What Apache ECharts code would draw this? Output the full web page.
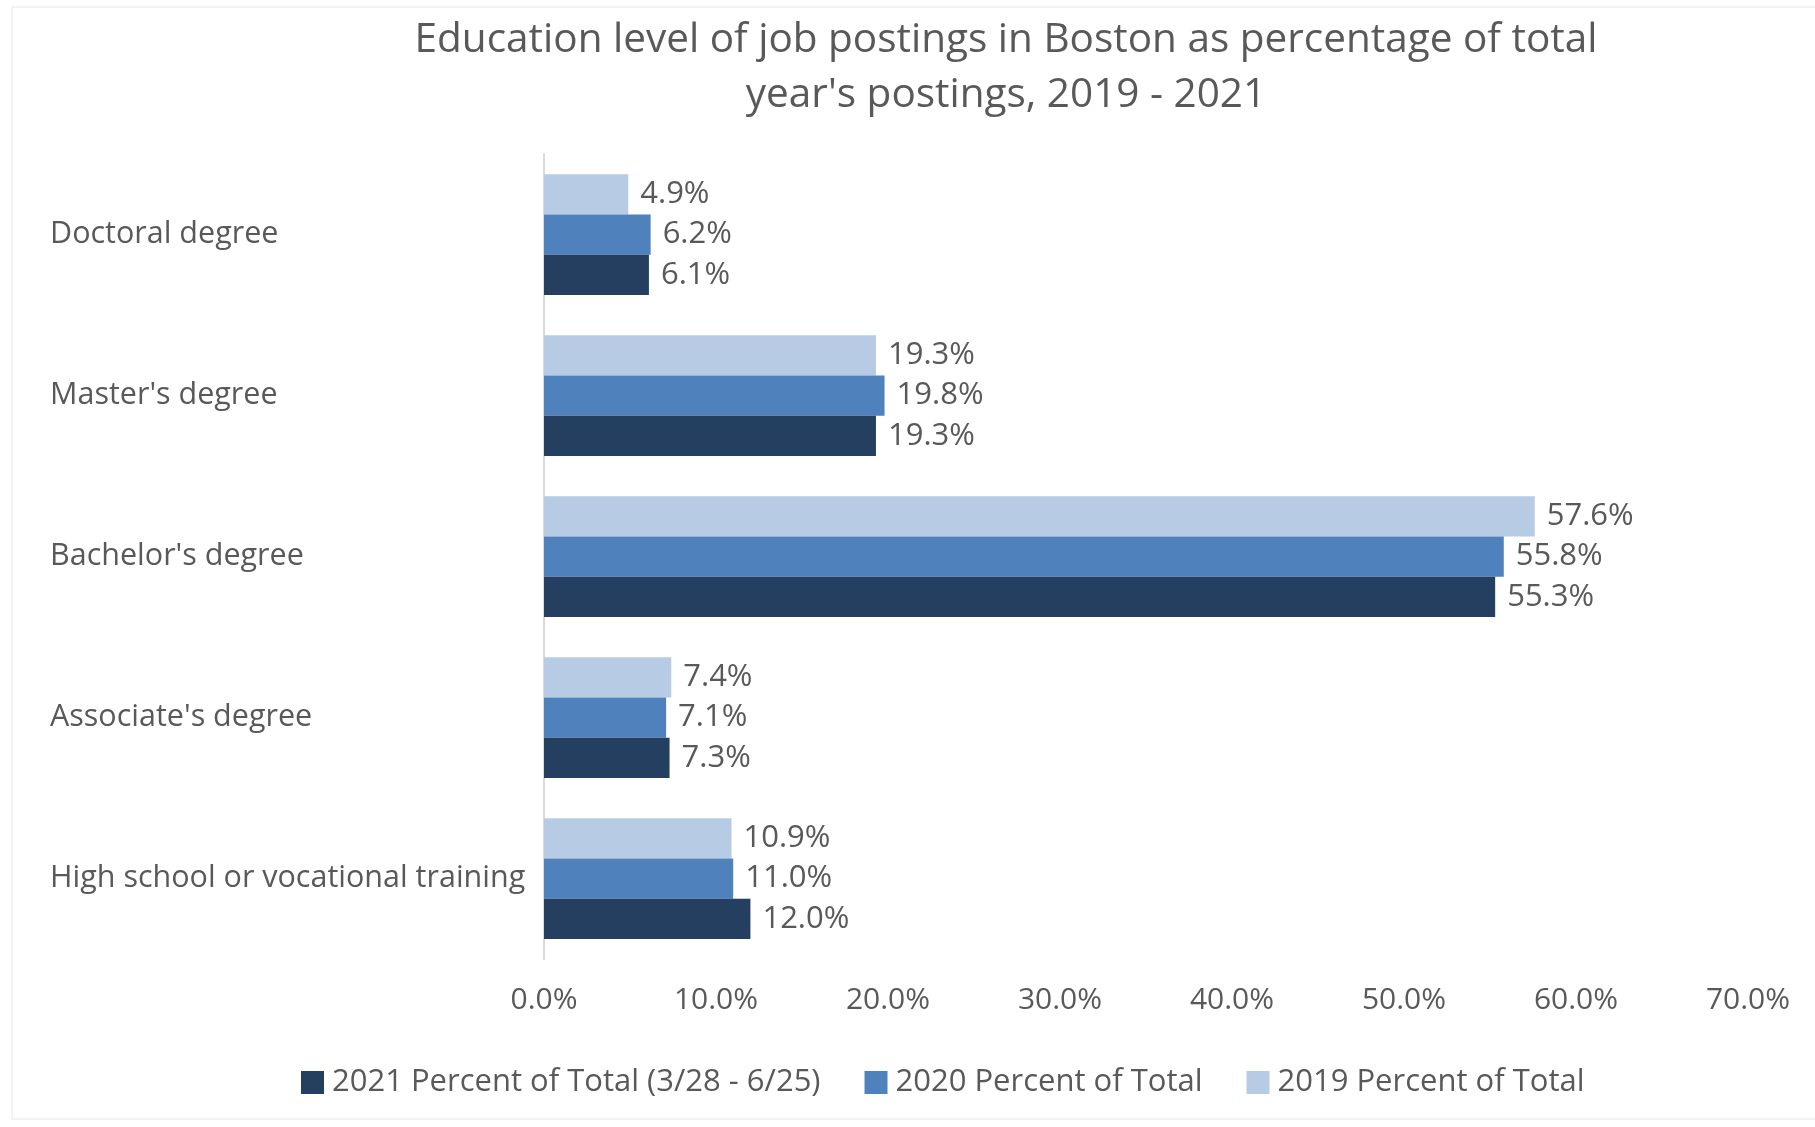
<!DOCTYPE html>
<html>
<head>
<meta charset="utf-8">
<script src="https://cdn.jsdelivr.net/npm/echarts@6/dist/echarts.min.js"></script>
<style>
  html, body { margin: 0; padding: 0; background: #fff; }
  #chart { width: 1815px; height: 1127px; }
</style>
</head>
<body>
<div id="chart"></div>
<script>
// categories, top to bottom
const categories = [
  "Doctoral degree",
  "Master's degree",
  "Bachelor's degree",
  "Associate's degree",
  "High school or vocational training"
];
const values2019 = [4.9, 19.3, 57.6, 7.4, 10.9];
const values2020 = [6.2, 19.8, 55.8, 7.1, 11.0];
const values2021 = [6.1, 19.3, 55.3, 7.3, 12.0];
const ticks = [0, 10, 20, 30, 40, 50, 60, 70];

const font = "'Open Sans', sans-serif";
const grey = "#595959";

function barSeries(name, data, color) {
  return {
    name: name,
    type: "bar",
    data: data,
    barGap: "0%",
    barCategoryGap: "25%",
    itemStyle: { color: color },
    label: {
      show: true,
      position: "right",
      distance: 12,
      color: grey,
      fontFamily: font,
      fontSize: 31,
      formatter: (p) => p.value.toFixed(1) + "%"
    }
  };
}

const chart = echarts.init(document.getElementById("chart"));
chart.setOption({
  animation: false,
  title: {
    text: "Education level of job postings in Boston as percentage of total\nyear's postings, 2019 - 2021",
    left: 1001,
    textAlign: "center",
    top: 8,
    textStyle: { color: grey, fontFamily: font, fontSize: 40.5, fontWeight: "normal", lineHeight: 55 }
  },
  graphic: [{
    type: "rect",
    shape: { x: 12, y: 7, width: 1830, height: 1112 },
    style: { fill: null, stroke: "#e6e6e6", lineWidth: 1 },
    silent: true
  }],
  legend: {
    data: ["2021 Percent of Total (3/28 - 6/25)", "2020 Percent of Total", "2019 Percent of Total"],
    left: 296,
    top: 1062,
    itemWidth: 23,
    itemHeight: 23,
    itemGap: 44,
    icon: "rect",
    textStyle: { color: grey, fontFamily: font, fontSize: 31, padding: [0, 0, 0, 3] }
  },
  grid: { left: 544, right: 67, top: 154, bottom: 168, containLabel: false },
  xAxis: {
    type: "value",
    min: ticks[0],
    max: ticks[ticks.length - 1],
    interval: 10,
    splitLine: { show: false },
    axisLine: { show: false },
    axisTick: { show: false },
    axisLabel: {
      color: grey, fontFamily: font, fontSize: 30, margin: 26,
      formatter: (v) => v.toFixed(1) + "%"
    }
  },
  yAxis: {
    type: "category",
    data: categories,
    inverse: true,
    axisLine: { show: true, lineStyle: { color: "#d9d9d9", width: 2 } },
    axisTick: { show: false },
    axisLabel: { color: grey, fontFamily: font, fontSize: 30.5, align: "left", margin: 494 }
  },
  series: [
    barSeries("2019 Percent of Total", values2019, "#b7cbe4"),
    barSeries("2020 Percent of Total", values2020, "#4f81bd"),
    barSeries("2021 Percent of Total (3/28 - 6/25)", values2021, "#243f60")
  ]
});
</script>
</body>
</html>
